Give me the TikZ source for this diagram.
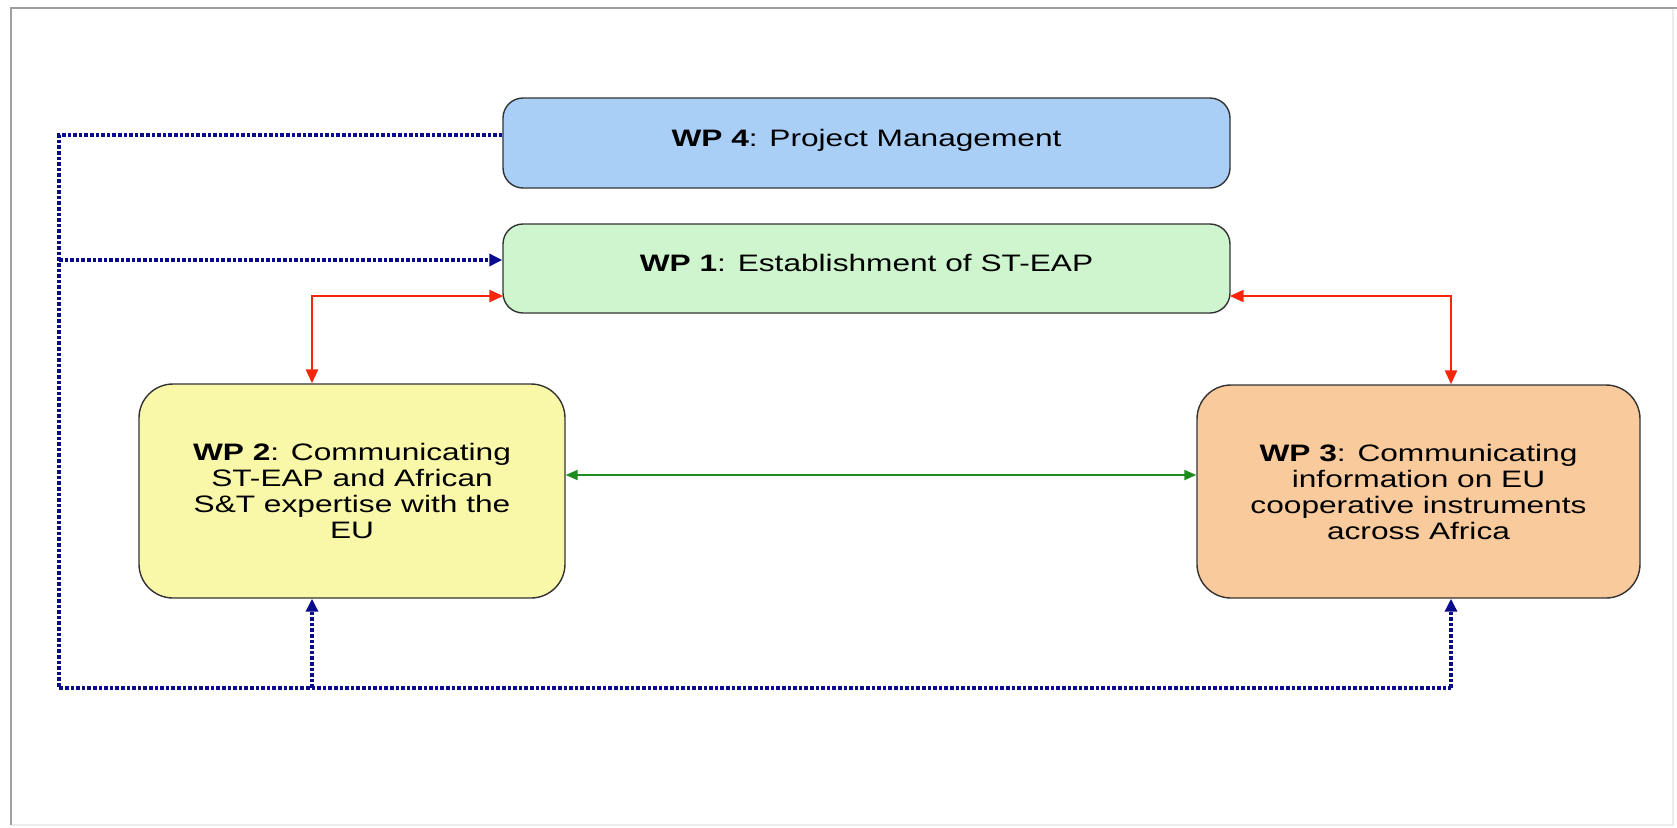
\documentclass[tikz,border=0pt]{standalone}
\usepackage{fontspec}
\setmainfont{Liberation Sans}[FakeStretch=1.33]
\usetikzlibrary{arrows.meta}
\definecolor{wpblue}{HTML}{A9CFF7}
\definecolor{wpgreen}{HTML}{CEF5CE}
\definecolor{wpyellow}{HTML}{F9F7A8}
\definecolor{wporange}{HTML}{F9CA9B}
\definecolor{busblue}{HTML}{0A0A8C}
\definecolor{linkred}{HTML}{F5260C}
\definecolor{linkgreen}{HTML}{1E8C1E}

\begin{document}
\begin{tikzpicture}[x=0.5pt,y=-0.5pt,
  wpbox/.style={draw=black!80,line width=0.7pt,rounded corners=10pt,inner sep=0pt,
    align=center,font=\fontsize{11.9}{13}\selectfont},
  flatbox/.style={wpbox,text depth=5.6pt},
  bigbox/.style={wpbox,rounded corners=17pt},
  bus/.style={busblue,line width=2pt,dash pattern=on 1.8pt off 1pt},
  bustip/.style={bus,-{Triangle[length=6.5pt,width=6pt]}},
  redlink/.style={linkred,line width=1.3pt,{Triangle[length=7pt,width=6pt]}-{Triangle[length=7pt,width=6pt]}},
  greenlink/.style={linkgreen,line width=1pt,{Triangle[length=6pt,width=5pt]}-{Triangle[length=6pt,width=5pt]}}]
\useasboundingbox (0,0) rectangle (1677,827);
% frame
\draw[gray!15,line width=0.8pt] (1673,8) -- (1673,825) -- (11,825);
\draw[gray!75,line width=1pt] (11,825) -- (11,8) -- (1677,8);
% work packages
\node[flatbox,fill=wpblue,minimum width=363.5pt,minimum height=45pt] (wp4) at (866.5,143) {\textbf{WP 4}: Project Management};
\node[flatbox,fill=wpgreen,minimum width=363.5pt,minimum height=44.5pt] (wp1) at (866.5,268.5) {\textbf{WP 1}: Establishment of ST-EAP};
\node[bigbox,fill=wpyellow,minimum width=213pt,minimum height=107pt] (wp2) at (352,491) {\textbf{WP 2}: Communicating\\ST-EAP and African\\S\&T expertise with the\\EU};
\node[bigbox,fill=wporange,minimum width=221.5pt,minimum height=106.5pt] (wp3) at (1418.5,491.5) {\textbf{WP 3}: Communicating\\information on EU\\cooperative instruments\\across Africa};
% corners of the links
\coordinate (bl) at (59,688);
\coordinate (b1) at (59,260);
\coordinate (b2) at (312,688);
\coordinate (b3) at (1451,688);
\coordinate (rl) at (312,296);
\coordinate (rr) at (1451,296);
\coordinate (g) at (0,475);
% management links
\draw[bus] ([yshift=4pt]wp4.west) -| (bl) -- (b3);
\draw[bustip] (b1) -- (wp1.west |- b1);
\draw[bustip] (b2) -- (wp2.south -| b2);
\draw[bustip] (b3) -- (wp3.south -| b3);
% links between WPs
\draw[redlink] ([xshift=0.5pt]wp1.west |- rl) -| (wp2.north -| rl);
\draw[redlink] ([xshift=-0.5pt]wp1.east |- rr) -| (wp3.north -| rr);
\draw[greenlink] (wp2.east |- g) -- (wp3.west |- g);
\end{tikzpicture}
\end{document}
